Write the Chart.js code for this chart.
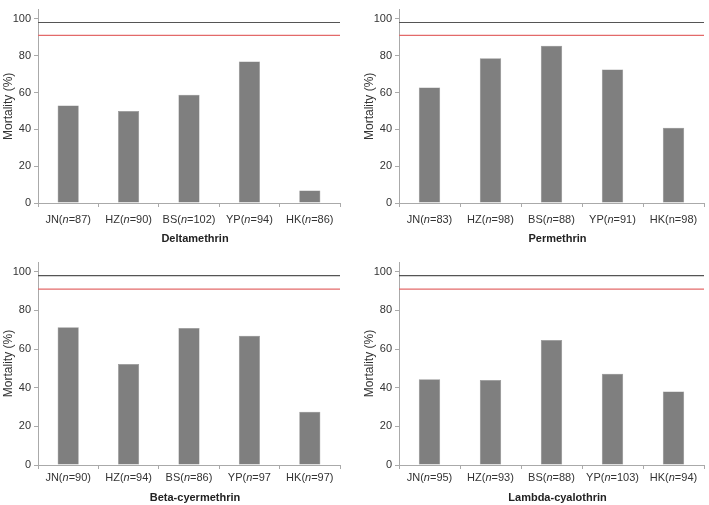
<!DOCTYPE html>
<html>
<head>
<meta charset="utf-8">
<script src="https://cdn.jsdelivr.net/npm/chart.js@4.4.1/dist/chart.umd.min.js"></script>
<style>
    body { margin: 0; background: #fff; }
    #wrap { position: relative; width: 709px; height: 505px; }
    canvas { position: absolute; }
</style>
</head>
<body>
<div id="wrap">
    <canvas id="c1" width="345" height="250" style="left:0;top:0"></canvas>
    <canvas id="c2" width="348" height="250" style="left:361px;top:0"></canvas>
    <canvas id="c3" width="345" height="255" style="left:0;top:250px"></canvas>
    <canvas id="c4" width="348" height="255" style="left:361px;top:250px"></canvas>
</div>
<script>
// Tick labels: text between underscores is drawn in italics
const deltaTicks = ['JN(_n_=87)', 'HZ(_n_=90)', 'BS(_n_=102)', 'YP(_n_=94)', 'HK(_n_=86)'];
const permTicks = ['JN(_n_=83)', 'HZ(_n_=98)', 'BS(_n_=88)', 'YP(_n_=91)', 'HK(n=98)'];
const betaTicks = ['JN(_n_=90)', 'HZ(_n_=94)', 'BS(_n_=86)', 'YP(_n_=97', 'HK(_n_=97)'];
const lambdaTicks = ['JN(_n_=95)', 'HZ(_n_=93)', 'BS(_n_=88)', 'YP(_n_=103)', 'HK(_n_=94)'];

// Mortality (%)
const deltaValues = [53, 50, 58.8, 76.8, 6.8];
const permValues = [62.7, 78.6, 85.4, 72.5, 40.8];
const betaValues = [71.3, 52.2, 70.8, 66.8, 27.6];
const lambdaValues = [44.3, 44.0, 64.6, 47.2, 38.0];

// Reference lines
const upperLine = 98;
const lowerLine = 91;

const yTicks = [0, 20, 40, 60, 80, 100];

const FONT = '"Liberation Sans", Arial, sans-serif';

// Draws the mixed-style x labels and the panel title under the axis
const labelPlugin = {
    id: 'labelPlugin',
    afterDraw(chart, args, opts) {
        const ctx = chart.ctx;
        const xScale = chart.scales.x;
        const area = chart.chartArea;
        ctx.save();
        ctx.fillStyle = '#333';
        ctx.textBaseline = 'middle';
        ctx.textAlign = 'left';
        opts.ticks.forEach(function(label, i) {
            const parts = label.split('_');
            let total = 0;
            const widths = parts.map(function(p, k) {
                ctx.font = (k % 2 ? 'italic ' : '') + '11px ' + FONT;
                const w = ctx.measureText(p).width;
                total += w;
                return w;
            });
            let x = xScale.getPixelForValue(i) - total / 2;
            parts.forEach(function(p, k) {
                ctx.font = (k % 2 ? 'italic ' : '') + '11px ' + FONT;
                ctx.fillText(p, x, area.bottom + opts.labelOffset);
                x += widths[k];
            });
        });
        ctx.font = 'bold 11px ' + FONT;
        ctx.textAlign = 'center';
        ctx.fillStyle = '#222';
        ctx.fillText(opts.title, (area.left + area.right) / 2 + 6, area.bottom + opts.titleOffset);
        ctx.restore();
    }
};

function makePanel(id, ticks, values, title, padTop, xHeight, labelOffset, titleOffset) {
    const canvas = document.getElementById(id);
    return new Chart(canvas, {
        type: 'bar',
        data: {
            labels: ticks,
            datasets: [
                {
                    data: values,
                    backgroundColor: '#7f7f7f',
                    borderColor: '#8c8c8c',
                    borderWidth: 0.5,
                    grouped: false,
                    categoryPercentage: 1,
                    barPercentage: 0.35
                },
                {
                    type: 'line',
                    xAxisID: 'xl',
                    data: [{x: 0, y: upperLine}, {x: 1, y: upperLine}],
                    borderColor: '#555',
                    borderWidth: 1.2,
                    pointRadius: 0
                },
                {
                    type: 'line',
                    xAxisID: 'xl',
                    data: [{x: 0, y: lowerLine}, {x: 1, y: lowerLine}],
                    borderColor: '#e36a6a',
                    borderWidth: 1.2,
                    pointRadius: 0
                }
            ]
        },
        options: {
            responsive: false,
            animation: false,
            layout: { padding: { top: padTop, right: 5, left: 0, bottom: 0 } },
            plugins: {
                legend: { display: false },
                tooltip: { enabled: false },
                labelPlugin: { ticks: ticks, title: title, labelOffset: labelOffset, titleOffset: titleOffset }
            },
            scales: {
                x: {
                    ticks: { display: false },
                    grid: { offset: true, drawOnChartArea: false, tickLength: 4, color: '#aaa' },
                    border: { color: '#aaa' },
                    afterFit: function(scale) { scale.height = xHeight; }
                },
                xl: {
                    type: 'linear',
                    display: false,
                    offset: false,
                    min: 0,
                    max: 1
                },
                y: {
                    min: 0,
                    max: 105,
                    afterBuildTicks: function(scale) {
                        scale.ticks = yTicks.map(function(v) { return { value: v }; });
                    },
                    ticks: { color: '#333', font: { family: FONT, size: 11 }, padding: 3 },
                    grid: { drawOnChartArea: false, tickLength: 4, color: '#aaa' },
                    border: { color: '#aaa' },
                    title: {
                        display: true,
                        text: 'Mortality (%)',
                        color: '#333',
                        font: { family: FONT, size: 12 },
                        padding: { top: 1, bottom: 2 }
                    },
                    afterFit: function(scale) { scale.width = 38; }
                }
            }
        },
        plugins: [labelPlugin]
    });
}

makePanel('c1', deltaTicks, deltaValues, 'Deltamethrin', 2, 47, 17, 36);
makePanel('c2', permTicks, permValues, 'Permethrin', 2, 47, 17, 36);
makePanel('c3', betaTicks, betaValues, 'Beta-cyermethrin', 12, 40, 13, 33);
makePanel('c4', lambdaTicks, lambdaValues, 'Lambda-cyalothrin', 12, 40, 13, 33);
</script>
</body>
</html>
